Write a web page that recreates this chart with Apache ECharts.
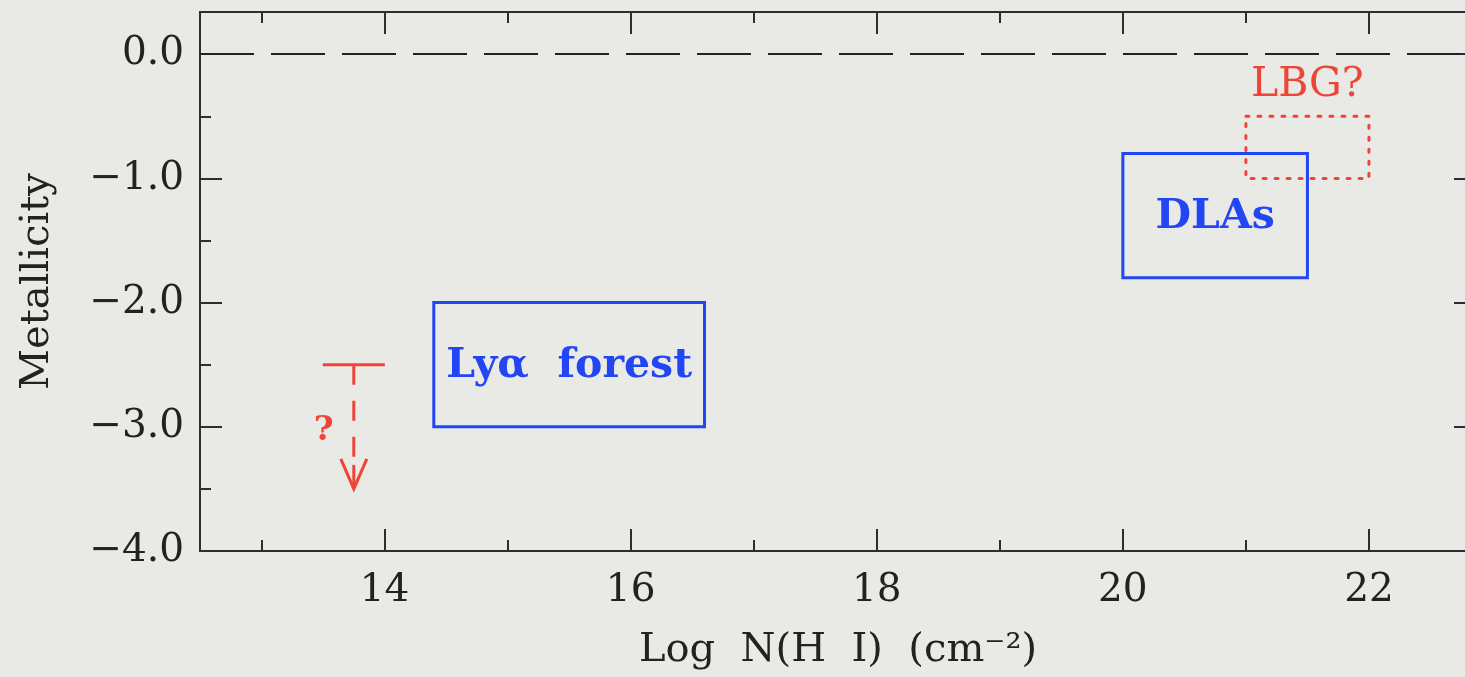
<!DOCTYPE html>
<html>
<head>
<meta charset="utf-8">
<script src="https://cdn.jsdelivr.net/npm/echarts@6/dist/echarts.min.js"></script>
<style>
html,body{margin:0;padding:0;background:#e9e9e6;overflow:hidden;}
#chart{width:1476px;height:677px;}
</style>
</head>
<body>
<div id="chart"></div>
<script>
// ---- data ----
const xMajorTicks = [14, 16, 18, 20, 22];
const xMinorTicks = [13, 15, 17, 19, 21];
const xTickLabels = ['14', '16', '18', '20', '22'];
const yMajorTicks = [0, -1, -2, -3, -4];
const yMinorTicks = [-0.5, -1.5, -2.5, -3.5];
const yTickLabels = ['0.0', '\u22121.0', '\u22122.0', '\u22123.0', '\u22124.0'];

const regionNames = ['Ly\u03b1  forest', 'DLAs', 'LBG?'];
const regionXMin = [14.4, 20.0, 21.0];
const regionXMax = [16.6, 21.5, 22.0];
const regionYMin = [-3.0, -1.8, -1.0];
const regionYMax = [-2.0, -0.8, -0.5];

const limitX = [13.75];
const limitY = [-2.5];
const limitYEnd = [-3.5];
const limitLabel = ['?'];

const solarLevel = [0];

// ---- styles ----
const BLUE = '#2246f4';
const RED = '#ee4536';
const AXIS = '#2e2e2e';
const regionStyle = [
  {stroke: BLUE, dash: null, font: 'bold 41px "DejaVu Serif"', labelAt: 'center'},
  {stroke: BLUE, dash: null, font: 'bold 41px "DejaVu Serif"', labelAt: 'center'},
  {stroke: RED, dash: [3, 9], font: '41px "DejaVu Serif"', labelAt: 'above'}
];

const regionData = regionNames.map((n, i) => [regionXMin[i], regionXMax[i], regionYMin[i], regionYMax[i]]);
const limitData = limitX.map((x, i) => [x, limitY[i], limitYEnd[i]]);

const XMIN = 12.5, XMAX = 22.87, YMIN = -4, YMAX = 0.34;
const serif = '"DejaVu Serif", serif';

function xAxisDef(pos, ticks, len, labels) {
  return {
    type: 'value', position: pos, min: XMIN, max: XMAX,
    axisLine: {show: true, onZero: false, lineStyle: {color: AXIS, width: 2}},
    axisTick: {show: true, inside: true, length: len, customValues: ticks, lineStyle: {color: AXIS, width: 2}},
    axisLabel: labels ? {
      show: true, customValues: xMajorTicks, margin: 20,
      fontFamily: serif, fontSize: 39, color: '#222',
      formatter: v => xTickLabels[xMajorTicks.indexOf(v)] ?? ''
    } : {show: false},
    splitLine: {show: false}
  };
}
function yAxisDef(pos, ticks, len, labels) {
  return {
    type: 'value', position: pos, min: YMIN, max: YMAX,
    axisLine: {show: true, onZero: false, lineStyle: {color: AXIS, width: 2}},
    axisTick: {show: true, inside: true, length: len, customValues: ticks, lineStyle: {color: AXIS, width: 2}},
    axisLabel: labels ? {
      show: true, customValues: yMajorTicks, margin: 16,
      fontFamily: serif, fontSize: 39, color: '#222',
      formatter: v => yTickLabels[yMajorTicks.indexOf(v)] ?? ''
    } : {show: false},
    splitLine: {show: false}
  };
}

const xAxes = [
  xAxisDef('bottom', xMajorTicks, 22, true),
  xAxisDef('bottom', xMinorTicks, 11, false),
  xAxisDef('top', xMajorTicks, 22, false),
  xAxisDef('top', xMinorTicks, 11, false)
];
Object.assign(xAxes[0], {
  name: 'Log  N(H  I)  (cm\u207b\u00b2)', nameLocation: 'middle', nameGap: 80,
  nameTextStyle: {fontFamily: serif, fontSize: 40, color: '#222'}
});
const yAxes = [
  yAxisDef('left', yMajorTicks, 22, true),
  yAxisDef('left', yMinorTicks, 11, false),
  yAxisDef('right', yMajorTicks, 22, false),
  yAxisDef('right', yMinorTicks, 11, false)
];
Object.assign(yAxes[0], {
  name: 'Metallicity', nameLocation: 'middle', nameGap: 142, nameRotate: 90,
  nameTextStyle: {fontFamily: serif, fontSize: 40, color: '#222'}
});

const chart = echarts.init(document.getElementById('chart'), null, {renderer: 'canvas'});
chart.setOption({
  backgroundColor: '#e9e9e6',
  animation: false,
  grid: {left: 200, right: 0, top: 12, bottom: 126, containLabel: false},
  xAxis: xAxes,
  yAxis: yAxes,
  series: [
    {
      type: 'custom', xAxisIndex: 0, yAxisIndex: 0,
      data: regionData,
      encode: {x: [0, 1], y: [2, 3]},
      renderItem: function (params, api) {
        const i = params.dataIndex;
        const st = regionStyle[i];
        const tl = api.coord([api.value(0), api.value(3)]);
        const br = api.coord([api.value(1), api.value(2)]);
        const cx = (tl[0] + br[0]) / 2, cy = (tl[1] + br[1]) / 2;
        const label = st.labelAt === 'center'
          ? {type: 'text', x: cx, y: cy + 2, style: {text: regionNames[i], font: st.font, fill: st.stroke, textAlign: 'center', textVerticalAlign: 'middle'}}
          : {type: 'text', x: cx, y: tl[1] - 10, style: {text: regionNames[i], font: st.font, fill: st.stroke, textAlign: 'center', textVerticalAlign: 'bottom'}};
        return {
          type: 'group',
          children: [
            {type: 'rect', shape: {x: tl[0], y: tl[1], width: br[0] - tl[0], height: br[1] - tl[1]},
             style: {fill: 'none', stroke: st.stroke, lineWidth: 3, lineDash: st.dash, lineCap: 'round'}},
            label
          ]
        };
      },
      markLine: {
        silent: true, symbol: 'none', label: {show: false},
        lineStyle: {color: '#222', width: 2, type: [54, 17]},
        data: solarLevel.map(v => ({yAxis: v}))
      },
      z: 3
    },
    {
      type: 'custom', xAxisIndex: 0, yAxisIndex: 0,
      data: limitData,
      encode: {x: 0, y: [1, 2]},
      renderItem: function (params, api) {
        const top = api.coord([api.value(0), api.value(1)]);
        const tip = api.coord([api.value(0), api.value(2)]);
        const capHalf = 31, headHalf = 13, headLen = 30;
        const s = {stroke: RED, lineWidth: 3, fill: 'none'};
        return {
          type: 'group',
          children: [
            {type: 'line', shape: {x1: top[0] - capHalf, y1: top[1], x2: top[0] + capHalf, y2: top[1]}, style: s},
            {type: 'line', shape: {x1: top[0], y1: top[1], x2: tip[0], y2: tip[1] - headLen}, style: Object.assign({}, s, {lineDash: [20, 16]})},
            {type: 'line', shape: {x1: tip[0], y1: tip[1] - headLen + 6, x2: tip[0], y2: tip[1]}, style: s},
            {type: 'polyline', shape: {points: [[tip[0] - headHalf, tip[1] - headLen], [tip[0], tip[1]], [tip[0] + headHalf, tip[1] - headLen]]}, style: s},
            {type: 'text', x: top[0] - 30, y: (top[1] + tip[1]) / 2 + 4,
             style: {text: limitLabel[params.dataIndex], font: 'bold 34px "DejaVu Serif"', fill: RED, textAlign: 'center', textVerticalAlign: 'middle'}}
          ]
        };
      },
      z: 3
    }
  ]
});
</script>
</body>
</html>
